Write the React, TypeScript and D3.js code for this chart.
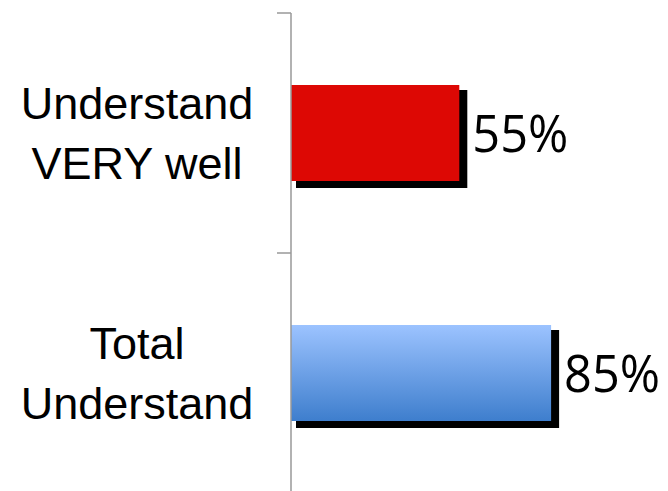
import React from "react";
import * as d3 from "d3";

const categories: string[][] = [["Understand", "VERY well"], ["Total", "Understand"]];
const values: number[] = [55, 85];
const valueLabels: string[] = ["55%", "85%"];

const W = 668;
const H = 491;

export default function App() {
  const x = d3.scaleLinear().domain([0, 100]).range([291, 597]);
  const y = d3.scaleBand<number>().domain([0, 1]).range([13, 493]).paddingInner(0.6).paddingOuter(0.3);
  const bw = y.bandwidth();
  const ticks = [13, 13 + 240, 13 + 480];
  return (
    <div style={{ position: "absolute", left: 0, top: 0 }}>
      <svg width={W} height={H} style={{ display: "block" }}>
        <defs>
          <linearGradient id="blueGrad" x1="0" y1="0" x2="0" y2="1">
            <stop offset="0%" stopColor="#9CC3FF" />
            <stop offset="100%" stopColor="#3E7ECD" />
          </linearGradient>
        </defs>
        <rect x={0} y={0} width={W} height={H} fill="#fff" />
        {values.map((v, i) => {
          const y0 = y(i)!;
          return (
            <g key={i}>
              <rect x={x(0) + 5} y={y0 + 5} width={x(v) - x(0) + 3} height={bw + 2} fill="#000" />
              <rect x={x(0)} y={y0} width={x(v) - x(0)} height={bw} fill={i === 0 ? "#DD0804" : "url(#blueGrad)"} />
              <text
                x={x(v) + 13}
                y={y0 + bw / 2 + 19}
                fontFamily="'Open Sans', sans-serif"
                fontSize={51}
                textLength={96}
                lengthAdjust="spacingAndGlyphs"
                fill="#000"
              >
                {valueLabels[i]}
              </text>
              {categories[i].map((line, j) => (
                <text
                  key={j}
                  x={137}
                  y={y0 + bw / 2 - 14 + j * 60}
                  textAnchor="middle"
                  fontFamily="'Liberation Sans', Arial, sans-serif"
                  fontSize={45}
                  fill="#000"
                >
                  {line}
                </text>
              ))}
            </g>
          );
        })}
        <line x1={291} y1={13} x2={291} y2={H} stroke="#999" strokeWidth={1.5} />
        {ticks.map((t, i) => (
          <line key={i} x1={277} y1={t} x2={291} y2={t} stroke="#999" strokeWidth={1.5} />
        ))}
      </svg>
    </div>
  );
}
